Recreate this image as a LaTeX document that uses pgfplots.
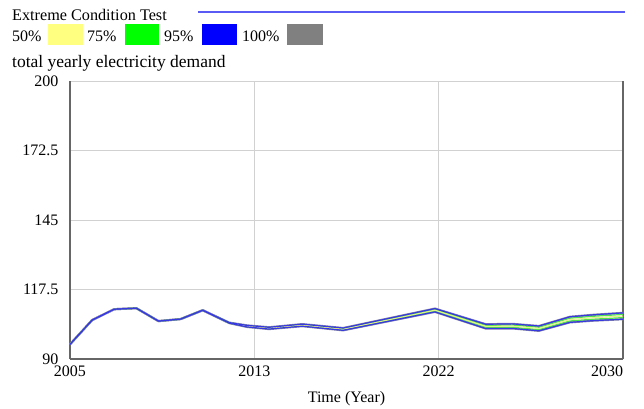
\documentclass[border=0pt]{standalone}
\usepackage{fontspec}
\setmainfont{Liberation Serif}
\usepackage{pgfplots}
\usepackage{pgfplotstable}
\pgfplotsset{compat=1.18}

\definecolor{sgrey}{HTML}{8A8AA8}
\definecolor{sblue}{HTML}{3838E0}
\definecolor{sgreen}{HTML}{50E050}
\definecolor{syellow}{HTML}{E8F088}
\definecolor{boxyellow}{HTML}{FFFF80}
\definecolor{boxgreen}{HTML}{00FF00}
\definecolor{boxblue}{HTML}{0000FF}
\definecolor{boxgrey}{HTML}{808080}
\definecolor{titleline}{HTML}{5A5AF5}

% sensitivity run: centre line and band edges (hi/lo = outer, mhi/mlo = inner)
\pgfplotstableread{
t       c      hi     lo     mhi    mlo
2005    95.8   95.8   95.8   95.8   95.8
2006    105.4  105.4  105.4  105.4  105.4
2007    109.7  109.7  109.7  109.7  109.7
2008    110.1  110.1  110.1  110.1  110.1
2009    105.0  105.0  105.0  105.0  105.0
2010    105.8  105.8  105.8  105.8  105.8
2011    109.3  109.3  109.3  109.3  109.3
2012.2  104.3  104.4  104.2  104.35 104.25
2013    103.0  103.3  102.7  103.15 102.85
2014    102.2  102.55 101.85 102.38 102.02
2015.5  103.4  103.8  103.0  103.6  103.2
2017.35 101.8  102.25 101.35 102.03 101.58
2021.5  109.3  109.95 108.65 109.63 108.98
2023.8  102.9  103.75 102.05 103.33 102.48
2025    103.0  103.9  102.1  103.45 102.55
2026.2  102.1  103.05 101.15 102.58 101.63
2027.6  105.6  106.7  104.5  106.15 105.05
2028.6  106.3  107.45 105.15 106.88 105.73
2030    107.0  108.25 105.75 107.63 106.38
}\demand

\begin{document}
\fontsize{16}{19}\selectfont
\begin{tikzpicture}[x=1pt,y=1pt]
\useasboundingbox (-70,-49) rectangle (574,359);
\begin{axis}[
    at={(0,0)}, anchor=south west,
    scale only axis,
    width=553pt, height=278pt,
    xmin=2005, xmax=2030,
    ymin=90, ymax=200,
    xtick={2005,2013.3333,2021.6667,2030},
    xticklabels={2005,2013,2022,{\hspace{-32pt}2030}},
    ytick={90,117.5,145,172.5,200},
    yticklabels={{\raisebox{-5pt}{90}},117.5,145,172.5,200},
    grid=major,
    grid style={draw=black!18, line width=1pt},
    major tick length=0pt,
    axis x line=bottom,
    axis y line=box,
    axis line style={-, draw=black!60, line width=1.5pt},
    xticklabel style={yshift=-1pt},
    yticklabel style={xshift=-6pt},
    clip=false,
]
\addplot[draw=sgrey, line width=2.2pt] table[x=t, y=hi] {\demand};
\addplot[draw=sgrey, line width=2.2pt] table[x=t, y=lo] {\demand};
\addplot[draw=sgreen, line width=1.2pt] table[x=t, y=mhi] {\demand};
\addplot[draw=sgreen, line width=1.2pt] table[x=t, y=mlo] {\demand};
\addplot[draw=syellow, line width=1.1pt] table[x=t, y=c] {\demand};
\addplot[draw=sblue, line width=1.2pt] table[x=t, y=hi] {\demand};
\addplot[draw=sblue, line width=1.2pt] table[x=t, y=lo] {\demand};
\end{axis}

% header: title, legend, variable name
\node[anchor=base west, inner sep=0pt, font=\fontsize{16.2}{19}\selectfont] at (-58,338) {Extreme Condition Test};
\draw[titleline, line width=1.3pt] (128,347) -- (555,347);
\node[anchor=base west, inner sep=0pt] at (-58,318) {50\%};
\fill[boxyellow] (-22,314) rectangle (13,335);
\node[anchor=base west, inner sep=0pt] at (17,318) {75\%};
\fill[boxgreen] (55,314) rectangle (89,335);
\node[anchor=base west, inner sep=0pt] at (94,318) {95\%};
\fill[boxblue] (132,314) rectangle (167,335);
\node[anchor=base west, inner sep=0pt] at (172,318) {100\%};
\fill[boxgrey] (217,314) rectangle (253,335);
\node[anchor=base west, inner sep=0pt, font=\fontsize{17.5}{20}\selectfont] at (-58,292) {total yearly electricity demand};
\node[anchor=base, inner sep=0pt] at (276.5,-43) {Time (Year)};
\end{tikzpicture}
\end{document}
